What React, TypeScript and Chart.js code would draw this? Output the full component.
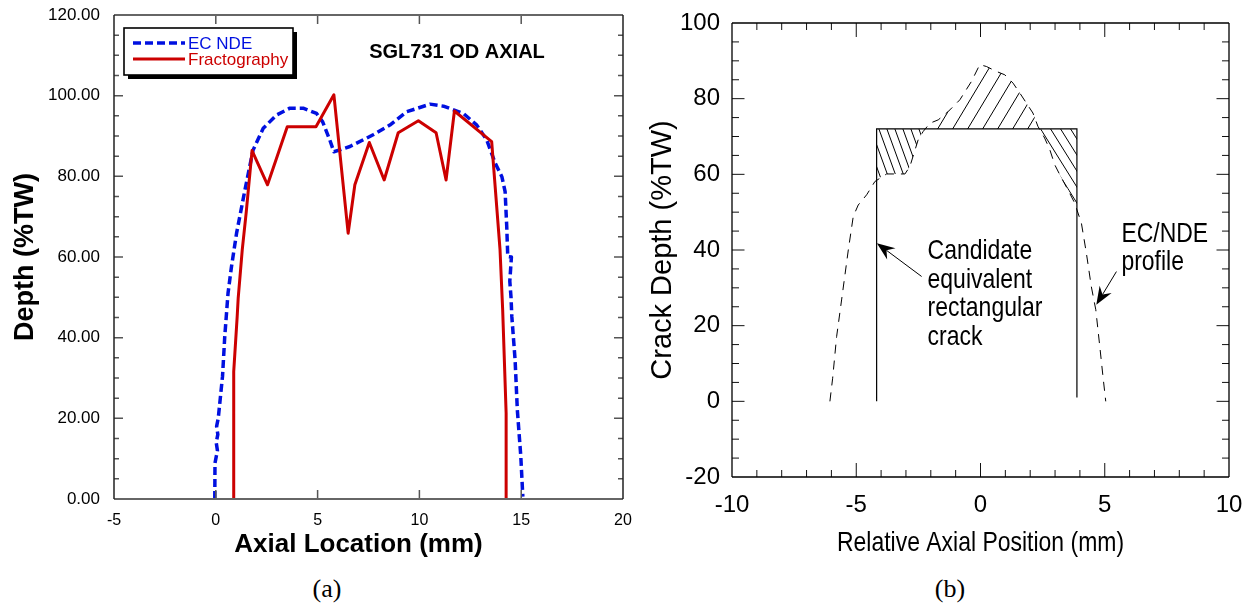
import React, { useEffect, useRef } from 'react';
import { Chart, registerables } from 'chart.js';

Chart.register(...registerables);

const SANS = "'Liberation Sans', Arial, Helvetica, sans-serif";
const NARROW_SCALE = 0.82;

// ---------------- Panel (a) ----------------
const panelATitle = 'SGL731 OD AXIAL';
const ecNdeLabel = 'EC NDE';
const fractoLabel = 'Fractography';
const ecNdeX = [-0.05, -0.04, 0.08, 0.02, 0.1, 0.04, 0.12, 0.33, 0.44, 0.6, 0.77, 1.02, 1.43, 1.83, 2.33, 2.98, 3.64, 4.29, 4.95, 5.25, 5.6, 5.8, 6.59, 7.73, 8.55, 9.37, 10.52, 11.18, 12.16, 12.82, 13.31, 13.72, 14.05, 14.21, 14.29, 14.34, 14.52, 14.44, 14.5, 14.54, 14.7, 14.81, 14.98, 15.08];
const ecNdeY = [0, 8.9, 12, 14, 16, 18, 20, 30.4, 40.3, 51, 57.6, 65.9, 76.6, 86.5, 91.9, 95.2, 96.9, 96.9, 95.6, 93.5, 89, 86.1, 87.4, 90.3, 92.7, 96, 97.9, 97.4, 95.6, 92.7, 89, 83.3, 79.9, 76.2, 67.5, 60.1, 60, 54, 50, 45.2, 34.5, 22.1, 10.6, 0.6];
const fractoX = [0.88, 0.88, 1.05, 1.1, 1.3, 1.49, 1.78, 2.54, 3.51, 4.92, 5.8, 6.5, 6.83, 7.54, 8.27, 8.96, 9.95, 10.82, 11.31, 11.72, 13.55, 13.96, 14.09, 14.26, 14.26];
const fractoY = [0, 31.6, 45.2, 49.8, 61.8, 70.9, 86.4, 77.9, 92.3, 92.3, 100.2, 65.9, 77.9, 88.4, 79.1, 90.8, 93.8, 90.8, 79.1, 96.2, 88.6, 61.8, 46.9, 21.3, 0];
const aXTicks = [-5, 0, 5, 10, 15, 20];
const aYTicks = [0, 20, 40, 60, 80, 100, 120];
const aXTitle = 'Axial Location (mm)';
const aYTitle = 'Depth (%TW)';

// ---------------- Panel (b) ----------------
const profileLabel = 'EC/NDE profile';
const rectLabel = 'Candidate equivalent rectangular crack';
const profileX = [-6.06, -5.95, -5.79, -5.59, -5.32, -5.12, -4.92, -4.58, -4.25, -3.78, -3.04, -2.84, -2.51, -2.31, -2.04, -1.7, -1.3, -0.83, -0.36, -0.03, 0.24, 0.64, 0.98, 1.31, 1.58, 1.85, 2.11, 2.31, 2.58, 2.79, 2.99, 3.26, 3.52, 3.79, 4.06, 4.26, 4.46, 4.64, 4.8, 4.93, 5.04];
const profileY = [0, 6.1, 17.1, 26.8, 40, 48.9, 51.9, 54.6, 58.1, 60.1, 60.1, 62.1, 69.1, 71.3, 73.5, 74.4, 76.6, 79.7, 84.6, 89, 88.5, 87.2, 86.3, 84.1, 81.5, 78.8, 76.2, 72.7, 69.6, 66.5, 62.5, 59, 55.9, 52.4, 47.1, 39.2, 30.3, 24.2, 14.5, 6.5, 0];
const rectX = [-4.18, -4.18, 3.88, 3.88];
const rectY = [0, 72, 72, 1];
const hatchLeftX = [-4.18, -4.18, -3.78, -3.04, -2.84, -2.51, -2.31, -2.25];
const hatchLeftY = [72, 58.7, 60.1, 60.1, 62.1, 69.1, 71.3, 72];
const hatchMidX = [-2.25, -2.04, -1.7, -1.3, -0.83, -0.36, -0.03, 0.24, 0.64, 0.98, 1.31, 1.58, 1.85, 2.11, 2.31, 2.4];
const hatchMidY = [72, 73.5, 74.4, 76.6, 79.7, 84.6, 89, 88.5, 87.2, 86.3, 84.1, 81.5, 78.8, 76.2, 72.7, 72];
const hatchRightX = [2.4, 2.58, 2.79, 2.99, 3.26, 3.52, 3.79, 3.88, 3.88];
const hatchRightY = [72, 69.6, 66.5, 62.5, 59, 55.9, 52.4, 51.2, 72];
const bXTicks = [-10, -5, 0, 5, 10];
const bYTicks = [-20, 0, 20, 40, 60, 80, 100];
const bXTitle = 'Relative Axial Position (mm)';
const bYTitle = 'Crack Depth (%TW)';
const arrowTailX = [-2.37, 5.47];
const arrowTailY = [33, 34.3];
const arrowHeadX = [-4.17, 4.66];
const arrowHeadY = [41.8, 25.5];
const noteTexts = [['Candidate', 'equivalent', 'rectangular', 'crack'], ['EC/NDE', 'profile']];
const noteX = [-2.13, 5.67];
const noteY = [37.5, 42.2];

const captions = ['(a)', '(b)'];

const pts = (xs: number[], ys: number[]) => xs.map((x, i) => ({ x, y: ys[i] }));

type TickSpec = {
  xStep: number; xMajorEvery: number; xMajorLen: number; xMinorLen: number;
  yStep: number; yMajorEvery: number; yMajorLen: number; yMinorLen: number;
  tickColor: string; tickWidth: number;
  sideColor: string; sideWidth: number; tbColor: string; tbWidth: number;
};

function framePlugin(spec: TickSpec) {
  return {
    id: 'frameTicks',
    afterDraw(chart: any) {
      const { ctx, chartArea: a, scales } = chart;
      const xs = scales.x, ys = scales.y;
      const isMul = (v: number, m: number) => Math.abs(v / m - Math.round(v / m)) < 1e-6;
      ctx.save();
      ctx.setLineDash([]);
      ctx.strokeStyle = spec.tickColor;
      ctx.lineWidth = spec.tickWidth;
      ctx.beginPath();
      const nx = Math.round((xs.max - xs.min) / spec.xStep);
      for (let i = 1; i < nx; i++) {
        const v = xs.min + i * spec.xStep;
        const len = isMul(v, spec.xMajorEvery) ? spec.xMajorLen : spec.xMinorLen;
        const px = xs.getPixelForValue(v);
        ctx.moveTo(px, a.bottom); ctx.lineTo(px, a.bottom - len);
        ctx.moveTo(px, a.top); ctx.lineTo(px, a.top + len);
      }
      const ny = Math.round((ys.max - ys.min) / spec.yStep);
      for (let i = 1; i < ny; i++) {
        const v = ys.min + i * spec.yStep;
        const len = isMul(v, spec.yMajorEvery) ? spec.yMajorLen : spec.yMinorLen;
        const py = ys.getPixelForValue(v);
        ctx.moveTo(a.left, py); ctx.lineTo(a.left + len, py);
        ctx.moveTo(a.right, py); ctx.lineTo(a.right - len, py);
      }
      ctx.stroke();
      ctx.strokeStyle = spec.tbColor;
      ctx.lineWidth = spec.tbWidth;
      ctx.beginPath();
      ctx.moveTo(a.left, a.top); ctx.lineTo(a.right, a.top);
      ctx.moveTo(a.left, a.bottom); ctx.lineTo(a.right, a.bottom);
      ctx.stroke();
      ctx.strokeStyle = spec.sideColor;
      ctx.lineWidth = spec.sideWidth;
      ctx.beginPath();
      ctx.moveTo(a.left, a.top); ctx.lineTo(a.left, a.bottom);
      ctx.moveTo(a.right, a.top); ctx.lineTo(a.right, a.bottom);
      ctx.stroke();
      ctx.restore();
    },
  };
}

const legendTitlePlugin = {
  id: 'boxLegendTitle',
  afterDraw(chart: any) {
    const ctx = chart.ctx;
    const a = chart.chartArea;
    const x0 = 124, y0 = 28, w = 169, h = 47;
    ctx.save();
    ctx.fillStyle = '#000';
    ctx.fillRect(x0 + 4, y0 + 4, w, h);
    ctx.fillStyle = '#fff';
    ctx.fillRect(x0, y0, w, h);
    ctx.strokeStyle = '#000';
    ctx.lineWidth = 1.6;
    ctx.strokeRect(x0, y0, w, h);
    chart.data.datasets.forEach((ds: any, i: number) => {
      const y = y0 + 15 + i * 16;
      ctx.strokeStyle = ds.borderColor;
      ctx.lineWidth = ds.borderWidth;
      ctx.setLineDash(ds.borderDash || []);
      ctx.beginPath();
      ctx.moveTo(x0 + 9, y);
      ctx.lineTo(x0 + 61, y);
      ctx.stroke();
      ctx.setLineDash([]);
      ctx.fillStyle = ds.borderColor;
      ctx.font = `17px ${SANS}`;
      ctx.textBaseline = 'middle';
      ctx.textAlign = 'left';
      ctx.fillText(ds.label, x0 + 64, y + 1);
    });
    ctx.fillStyle = '#000';
    ctx.font = `bold 20px ${SANS}`;
    ctx.textAlign = 'center';
    ctx.textBaseline = 'middle';
    ctx.fillText(panelATitle, 457, 52);
    // x-axis title, centred as in the reference (slightly left of plot centre)
    ctx.font = `bold 26px ${SANS}`;
    ctx.fillText(aXTitle, (a.left + a.right) / 2 - 10, a.bottom + 46);
    ctx.restore();
  },
};

function narrowText(ctx: CanvasRenderingContext2D, text: string, x: number, y: number) {
  ctx.save();
  ctx.translate(x, y);
  ctx.scale(NARROW_SCALE, 1);
  ctx.fillText(text, 0, 0);
  ctx.restore();
}

const notesPlugin = {
  id: 'notesArrows',
  afterDraw(chart: any) {
    const { ctx, scales, chartArea: a } = chart;
    const xs = scales.x, ys = scales.y;
    ctx.save();
    ctx.strokeStyle = '#000';
    ctx.fillStyle = '#000';
    ctx.lineWidth = 1;
    ctx.setLineDash([]);
    for (let i = 0; i < arrowTailX.length; i++) {
      const tx = xs.getPixelForValue(arrowTailX[i]);
      const ty = ys.getPixelForValue(arrowTailY[i]);
      const hx = xs.getPixelForValue(arrowHeadX[i]);
      const hy = ys.getPixelForValue(arrowHeadY[i]);
      const dx = hx - tx, dy = hy - ty;
      const d = Math.hypot(dx, dy);
      const ux = dx / d, uy = dy / d;
      const nx = -uy, ny = ux;
      const L = 18, hw = 7, notch = 6;
      const bx = hx - ux * L, by = hy - uy * L;
      const mx = hx - ux * (L - notch), my = hy - uy * (L - notch);
      ctx.beginPath();
      ctx.moveTo(tx, ty);
      ctx.lineTo(mx, my);
      ctx.stroke();
      ctx.beginPath();
      ctx.moveTo(hx, hy);
      ctx.lineTo(bx + nx * hw, by + ny * hw);
      ctx.lineTo(mx, my);
      ctx.lineTo(bx - nx * hw, by - ny * hw);
      ctx.closePath();
      ctx.fill();
    }
    ctx.font = `28px ${SANS}`;
    ctx.textAlign = 'left';
    ctx.textBaseline = 'alphabetic';
    noteTexts.forEach((lines, i) => {
      const px = xs.getPixelForValue(noteX[i]);
      const py = ys.getPixelForValue(noteY[i]);
      lines.forEach((t, j) => narrowText(ctx, t, px, py + j * 28.5));
    });
    ctx.textAlign = 'center';
    ctx.textBaseline = 'middle';
    narrowText(ctx, bXTitle, (a.left + a.right) / 2, a.bottom + 66);
    ctx.restore();
  },
};

function makeHatch(w: number, h: number, slash: boolean): CanvasPattern | string {
  const c = document.createElement('canvas');
  c.width = w;
  c.height = h;
  const g = c.getContext('2d');
  if (!g) return 'rgba(0,0,0,0.2)';
  g.strokeStyle = '#000';
  g.lineWidth = 1;
  for (let kx = -1; kx <= 1; kx++) {
    for (let ky = -1; ky <= 1; ky++) {
      g.beginPath();
      if (slash) {
        g.moveTo(kx * w, h + ky * h);
        g.lineTo(w + kx * w, ky * h);
      } else {
        g.moveTo(kx * w, ky * h);
        g.lineTo(w + kx * w, h + ky * h);
      }
      g.stroke();
    }
  }
  return g.createPattern(c, 'repeat') || '#000';
}

const fixedWidth = (w: number) => (scale: any) => {
  scale.width = w;
  scale.paddingTop = 0;
  scale.paddingBottom = 0;
};
const fixedHeight = (h: number) => (scale: any) => {
  scale.height = h;
  scale.paddingLeft = 0;
  scale.paddingRight = 0;
};
const setTicks = (arr: number[]) => (scale: any) => { scale.ticks = arr.map((v) => ({ value: v })); };

export default function App() {
  const refA = useRef<HTMLCanvasElement | null>(null);
  const refB = useRef<HTMLCanvasElement | null>(null);

  useEffect(() => {
    document.body.style.margin = '0';
    if (!refA.current || !refB.current) return;

    const chartA = new Chart(refA.current, {
      type: 'line',
      data: {
        datasets: [
          {
            label: ecNdeLabel,
            data: pts(ecNdeX, ecNdeY),
            borderColor: '#0010e0',
            borderWidth: 3.5,
            borderDash: [8, 4],
            pointRadius: 0,
            tension: 0,
            fill: false,
            order: 1,
            borderJoinStyle: 'round',
          },
          {
            label: fractoLabel,
            data: pts(fractoX, fractoY),
            borderColor: '#cc0000',
            borderWidth: 3,
            pointRadius: 0,
            tension: 0,
            fill: false,
            order: 0,
            borderJoinStyle: 'round',
          },
        ],
      },
      options: {
        animation: false,
        responsive: false,
        events: [],
        layout: { padding: { left: 0, top: 15, right: 17, bottom: 0 } },
        plugins: { legend: { display: false }, tooltip: { enabled: false }, title: { display: false } },
        scales: {
          x: {
            type: 'linear',
            min: -5,
            max: 20,
            afterBuildTicks: setTicks(aXTicks),
            afterFit: fixedHeight(71),
            grid: { display: false, drawTicks: false },
            border: { display: false },
            ticks: { autoSkip: false, maxRotation: 0, padding: 12, color: '#000', font: { family: SANS, size: 16 }, callback: (v: any) => String(v) },
            title: { display: false, text: aXTitle },
          },
          y: {
            type: 'linear',
            min: 0,
            max: 120,
            afterBuildTicks: setTicks(aYTicks),
            afterFit: fixedWidth(114),
            grid: { display: false, drawTicks: false },
            border: { display: false },
            ticks: { autoSkip: false, padding: 14, color: '#000', font: { family: SANS, size: 17 }, callback: (v: any) => Number(v).toFixed(2) },
            title: { display: true, text: aYTitle, color: '#000', font: { family: SANS, size: 27, weight: 'bold' }, padding: { top: 9, bottom: 0 } },
          },
        },
      },
      plugins: [
        framePlugin({
          xStep: 5, xMajorEvery: 5, xMajorLen: 9, xMinorLen: 9,
          yStep: 5, yMajorEvery: 20, yMajorLen: 9, yMinorLen: 5,
          tickColor: '#555', tickWidth: 1.5,
          sideColor: '#222', sideWidth: 1.5, tbColor: '#666', tbWidth: 2,
        }),
        legendTitlePlugin,
      ],
    } as any);

    const hatchL = makeHatch(8, 22, false);
    const hatchM = makeHatch(15, 25, true);
    const hatchR = makeHatch(10, 16, false);
    const hatchDs = (xs: number[], ys: number[], bg: any, label: string) => ({
      label,
      data: pts(xs, ys),
      borderWidth: 0,
      borderColor: 'rgba(0,0,0,0)',
      backgroundColor: bg,
      fill: 'shape',
      pointRadius: 0,
      tension: 0,
    });

    const chartB = new Chart(refB.current, {
      type: 'line',
      data: {
        datasets: [
          {
            label: profileLabel,
            data: pts(profileX, profileY),
            borderColor: '#000',
            borderWidth: 1,
            borderDash: [9, 7],
            pointRadius: 0,
            tension: 0,
            fill: false,
          },
          {
            label: rectLabel,
            data: pts(rectX, rectY),
            borderColor: '#000',
            borderWidth: 1.2,
            pointRadius: 0,
            tension: 0,
            fill: false,
          },
          hatchDs(hatchLeftX, hatchLeftY, hatchL, 'hatch left'),
          hatchDs(hatchMidX, hatchMidY, hatchM, 'hatch middle'),
          hatchDs(hatchRightX, hatchRightY, hatchR, 'hatch right'),
        ],
      },
      options: {
        animation: false,
        responsive: false,
        events: [],
        layout: { padding: { left: 0, top: 23, right: 27, bottom: 0 } },
        plugins: { legend: { display: false }, tooltip: { enabled: false }, title: { display: false } },
        scales: {
          x: {
            type: 'linear',
            min: -10,
            max: 10,
            afterBuildTicks: setTicks(bXTicks),
            afterFit: fixedHeight(93),
            grid: { display: false, drawTicks: false },
            border: { display: false },
            ticks: { autoSkip: false, maxRotation: 0, padding: 14, color: '#000', font: { family: SANS, size: 24 }, callback: (v: any) => String(v) },
            title: { display: false, text: bXTitle },
          },
          y: {
            type: 'linear',
            min: -20,
            max: 100,
            afterBuildTicks: setTicks(bYTicks),
            afterFit: fixedWidth(92),
            grid: { display: false, drawTicks: false },
            border: { display: false },
            ticks: { autoSkip: false, padding: 12, color: '#000', font: { family: SANS, size: 24 }, callback: (v: any) => String(v) },
            title: { display: true, text: bYTitle, color: '#000', font: { family: SANS, size: 29 }, padding: { top: 6, bottom: 0 } },
          },
        },
      },
      plugins: [
        framePlugin({
          xStep: 1, xMajorEvery: 5, xMajorLen: 14, xMinorLen: 7,
          yStep: 5, yMajorEvery: 20, yMajorLen: 12.5, yMinorLen: 7,
          tickColor: '#111', tickWidth: 1,
          sideColor: '#000', sideWidth: 1.3, tbColor: '#000', tbWidth: 1.3,
        }),
        notesPlugin,
      ],
    } as any);

    return () => {
      chartA.destroy();
      chartB.destroy();
    };
  }, []);

  const capStyle = (cx: number): React.CSSProperties => ({
    position: 'absolute',
    left: cx - 50,
    top: 576,
    width: 100,
    textAlign: 'center',
    fontFamily: "'Liberation Serif', 'Times New Roman', serif",
    fontSize: 26,
    lineHeight: '26px',
    color: '#000',
  });

  return (
    <div style={{ position: 'absolute', left: 0, top: 0, width: 1256, height: 610, background: '#fff', overflow: 'hidden' }}>
      <canvas ref={refA} width={640} height={570} style={{ position: 'absolute', left: 0, top: 0, width: 640, height: 570 }} />
      <canvas ref={refB} width={616} height={570} style={{ position: 'absolute', left: 640, top: 0, width: 616, height: 570 }} />
      <div style={capStyle(327)}>{captions[0]}</div>
      <div style={capStyle(950)}>{captions[1]}</div>
    </div>
  );
}
